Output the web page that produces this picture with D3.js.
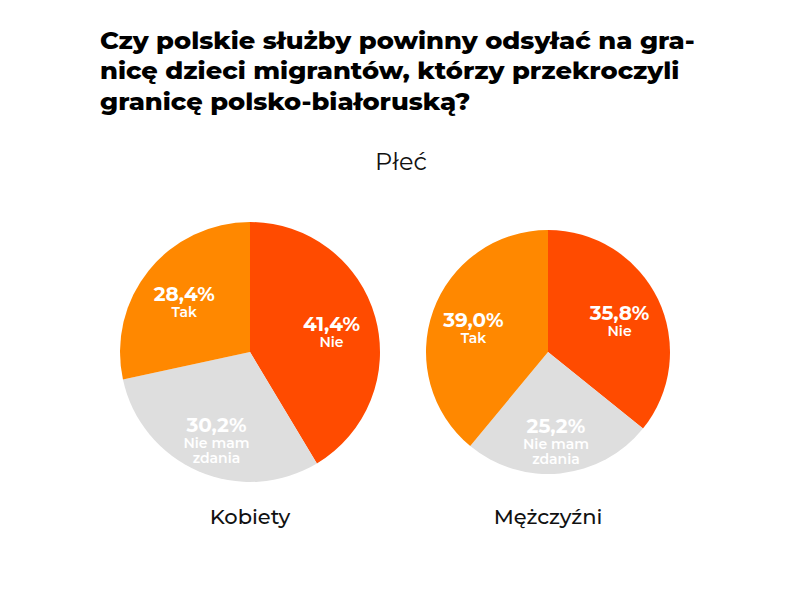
<!DOCTYPE html>
<html>
<head>
<meta charset="utf-8">
<script src="https://cdn.jsdelivr.net/npm/d3@7"></script>
<style>
  body { margin: 0; background: #fff; }
  text { font-family: 'Montserrat', 'Open Sans', sans-serif; }
</style>
</head>
<body>
<svg id="chart" width="800" height="593"></svg>
<script>
const titleLines = [
    'Czy polskie służby powinny odsyłać na gra-',
    'nicę dzieci migrantów, którzy przekroczyli',
    'granicę polsko-białoruską?'
];
const subtitle = 'Płeć';
const groups = ['Kobiety', 'Mężczyźni'];
const categories = ['Nie', 'Nie mam zdania', 'Tak'];
const categoryLines = [['Nie'], ['Nie mam', 'zdania'], ['Tak']];
const kobiety = [41.4, 30.2, 28.4];
const mezczyzni = [35.8, 25.2, 39.0];
const colors = ['#ff4b00', '#dedede', '#ff8800'];

const svg = d3.select('#chart');
const W = 800;

// title, stretched a bit to the width of the original bold face
const title = svg.append('g');
title.selectAll('text')
    .data(titleLines)
    .join('text')
    .attr('x', 0)
    .attr('y', (d, i) => 49 + i * 30.5)
    .style('font-size', '24px')
    .style('font-weight', 800)
    .attr('fill', '#000')
    .text(d => d);
const firstW = title.select('text').node().getComputedTextLength();
title.attr('transform', `translate(100,0) scale(${595 / firstW},1)`);

svg.append('text')
    .attr('x', W / 2 + 1)
    .attr('y', 170)
    .attr('text-anchor', 'middle')
    .style('font-size', '24px')
    .attr('fill', '#111')
    .text(subtitle);

const pieX = d3.scaleOrdinal().domain(groups).range([250, 548]);
const pieR = d3.scaleOrdinal().domain(groups).range([130, 122]);
const pieY = 352;

const color = d3.scaleOrdinal().domain(categories).range(colors);
const pie = d3.pie().sort(null).value(d => d.value);
const fmt = v => v.toFixed(1).replace('.', ',') + '%';

const series = [kobiety, mezczyzni];

groups.forEach((g, gi) => {
    const r = pieR(g);
    const data = categories.map((c, i) => ({ cat: c, lines: categoryLines[i], value: series[gi][i] }));
    const arcs = pie(data);
    const arc = d3.arc().innerRadius(0).outerRadius(r);
    const labelArc = d3.arc().innerRadius(r * 0.65).outerRadius(r * 0.65);

    const gp = svg.append('g').attr('transform', `translate(${pieX(g)},${pieY})`);

    gp.selectAll('path')
        .data(arcs)
        .join('path')
        .attr('d', arc)
        .attr('fill', d => color(d.data.cat));

    const lbl = gp.selectAll('g.lbl')
        .data(arcs)
        .join('g')
        .attr('class', 'lbl')
        .attr('transform', d => `translate(${labelArc.centroid(d)})`);

    lbl.append('text')
        .attr('text-anchor', 'middle')
        .attr('y', 2)
        .style('font-size', '20px')
        .style('font-weight', 700)
        .attr('fill', '#fff')
        .text(d => fmt(d.data.value));

    lbl.each(function (d) {
        d3.select(this).selectAll('text.cat')
            .data(d.data.lines)
            .join('text')
            .attr('class', 'cat')
            .attr('text-anchor', 'middle')
            .attr('y', (t, i) => 18 + i * 15)
            .style('font-size', '14px')
            .style('font-weight', 600)
            .attr('fill', '#fff')
            .text(t => t);
    });

    svg.append('text')
        .attr('x', pieX(g))
        .attr('y', 524)
        .attr('text-anchor', 'middle')
        .style('font-size', '21px')
        .style('font-weight', 500)
        .attr('fill', '#111')
        .text(g);
});
</script>
</body>
</html>
